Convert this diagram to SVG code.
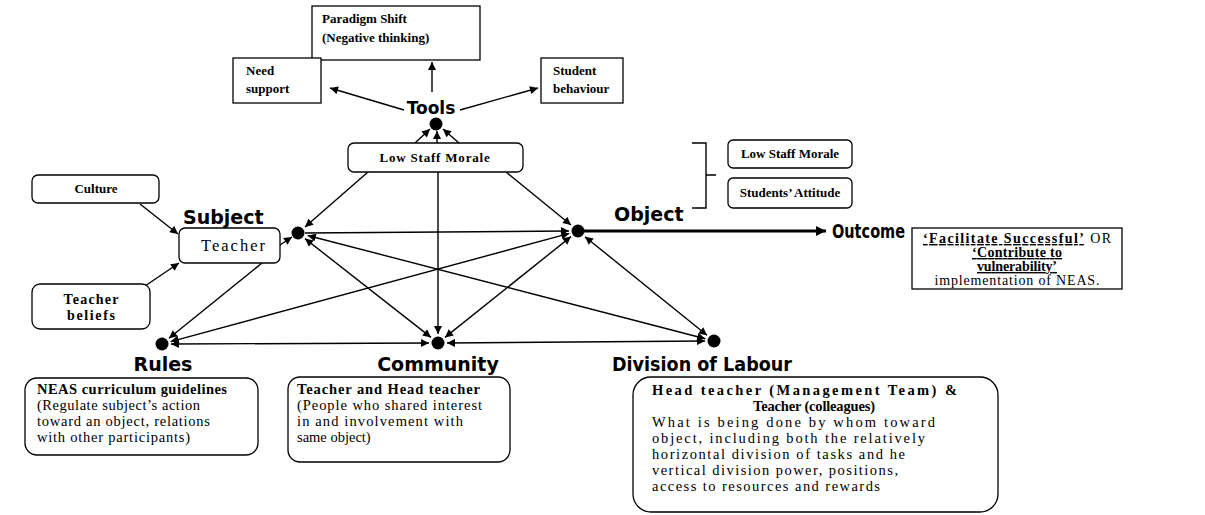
<svg xmlns="http://www.w3.org/2000/svg" width="1205" height="515" viewBox="0 0 1205 515">
<defs>
<marker id="ah" viewBox="0 0 10 10" refX="10" refY="5" markerWidth="9" markerHeight="8" orient="auto-start-reverse" markerUnits="userSpaceOnUse"><path d="M0,0 L10,5 L0,10 z" fill="#000"/></marker>
<marker id="ahBig" viewBox="0 0 10 10" refX="10" refY="5" markerWidth="12" markerHeight="10" orient="auto" markerUnits="userSpaceOnUse"><path d="M0,0 L10,5 L0,10 z" fill="#000"/></marker>
</defs>
<style>
.box{fill:#fff;stroke:#000;stroke-width:1.3}
.ln{stroke:#000;stroke-width:1.4;fill:none}
.hd{font-family:"DejaVu Sans",Arial,sans-serif;font-weight:bold;font-size:19px;fill:#000}
.t{font-family:"Liberation Serif","Times New Roman",serif;font-size:13px;fill:#000}
.m{font-size:14.5px}
.s14{font-size:14px}
.b{font-weight:bold}
.u{text-decoration:underline}
.dot{fill:#000}
</style>
<rect width="1205" height="515" fill="#fff"/>

<g id="connectors">
<line class="ln" x1="432" y1="92" x2="432" y2="62" marker-end="url(#ah)"/>
<line class="ln" x1="404" y1="110" x2="330" y2="88" marker-end="url(#ah)"/>
<line class="ln" x1="460" y1="110" x2="538" y2="88" marker-end="url(#ah)"/>
<line class="ln" x1="415" y1="143" x2="430" y2="129" marker-end="url(#ah)"/>
<line class="ln" x1="437" y1="143" x2="437" y2="131" marker-end="url(#ah)"/>
<line class="ln" x1="459" y1="143" x2="443" y2="129" marker-end="url(#ah)"/>
<line class="ln" x1="368" y1="172" x2="305" y2="227" marker-end="url(#ah)"/>
<line class="ln" x1="438" y1="172" x2="438" y2="334" marker-end="url(#ah)"/>
<line class="ln" x1="506" y1="172" x2="571" y2="225" marker-end="url(#ah)"/>
<line class="ln" x1="305" y1="233" x2="569" y2="231" marker-end="url(#ah)"/>
<line class="ln" x1="305" y1="238.6" x2="431" y2="337.4" marker-start="url(#ah)" marker-end="url(#ah)"/>
<line class="ln" x1="307.7" y1="235.5" x2="705.3" y2="338.7" marker-start="url(#ah)" marker-end="url(#ah)"/>
<line class="ln" x1="170.7" y1="341.6" x2="569.3" y2="233.4" marker-start="url(#ah)" marker-end="url(#ah)"/>
<line class="ln" x1="445" y1="337.4" x2="571" y2="236.6" marker-start="url(#ah)" marker-end="url(#ah)"/>
<line class="ln" x1="585" y1="236.7" x2="707" y2="335.3" marker-start="url(#ah)" marker-end="url(#ah)"/>
<line class="ln" x1="171" y1="344" x2="429" y2="343" marker-start="url(#ah)" marker-end="url(#ah)"/>
<line class="ln" x1="447" y1="343" x2="705" y2="341" marker-start="url(#ah)" marker-end="url(#ah)"/>
<line class="ln" x1="262" y1="263" x2="169" y2="338.3" marker-end="url(#ah)"/>
<line class="ln" x1="280" y1="245" x2="292" y2="237" marker-end="url(#ah)"/>
<line class="ln" x1="140" y1="204" x2="178" y2="234" marker-end="url(#ah)"/>
<line class="ln" x1="145" y1="286" x2="179" y2="263" marker-end="url(#ah)"/>
<line x1="584" y1="231" x2="826" y2="231" stroke="#000" stroke-width="3" marker-end="url(#ahBig)"/>
<path class="ln" d="M692,143 H706 V175 H716 M706,175 V208 H692"/>
</g>

<g id="tools">
<circle class="dot" cx="436" cy="124" r="6.5"/>
<text class="hd" x="431" y="114" text-anchor="middle" style="font-size:17px">Tools</text>
</g>
<g id="subject">
<circle class="dot" cx="298" cy="233" r="6.5"/>
<text class="hd" x="183" y="224">Subject</text>
</g>
<g id="object">
<circle class="dot" cx="578" cy="231" r="6.5"/>
<text class="hd" x="614" y="221">Object</text>
</g>
<g id="outcome">
<text class="hd" x="832" y="238" textLength="73" lengthAdjust="spacingAndGlyphs">Outcome</text>
</g>
<g id="rules">
<circle class="dot" cx="162" cy="344" r="6.5"/>
<text class="hd" x="163" y="371" text-anchor="middle">Rules</text>
</g>
<g id="community">
<circle class="dot" cx="438" cy="343" r="6.5"/>
<text class="hd" x="438" y="371" text-anchor="middle">Community</text>
</g>
<g id="division">
<circle class="dot" cx="714" cy="341" r="6.5"/>
<text class="hd" x="612" y="371" textLength="180" lengthAdjust="spacingAndGlyphs">Division of Labour</text>
</g>

<g id="paradigm-shift">
<rect class="box" x="312" y="6" width="168" height="54"/>
<text class="t b" x="322" y="23">Paradigm Shift</text>
<text class="t b" x="322" y="42">(Negative thinking)</text>
</g>
<g id="need-support">
<rect class="box" x="233" y="58" width="88" height="45"/>
<text class="t b" x="246" y="75">Need</text>
<text class="t b" x="246" y="93">support</text>
</g>
<g id="student-behaviour">
<rect class="box" x="541" y="58" width="82" height="45"/>
<text class="t b" x="553" y="75">Student</text>
<text class="t b" x="553" y="93">behaviour</text>
</g>
<g id="low-staff-morale">
<rect class="box" x="348" y="143" width="175" height="29" rx="6"/>
<text class="t b" x="435" y="162" text-anchor="middle" letter-spacing="0.8">Low Staff Morale</text>
</g>
<g id="object-low-staff-morale">
<rect class="box" x="728" y="140" width="124" height="28" rx="5"/>
<text class="t b" x="790" y="158" text-anchor="middle">Low Staff Morale</text>
</g>
<g id="object-students-attitude">
<rect class="box" x="728" y="178" width="124" height="30" rx="5"/>
<text class="t b" x="790" y="197" text-anchor="middle">Students’ Attitude</text>
</g>
<g id="culture">
<rect class="box" x="32" y="175" width="127" height="28" rx="6"/>
<text class="t b" x="96" y="193" text-anchor="middle">Culture</text>
</g>
<g id="teacher">
<rect class="box" x="179" y="228" width="101" height="35" rx="6"/>
<text class="t" x="233" y="251" text-anchor="middle" style="font-size:16.5px" textLength="64">Teacher</text>
</g>
<g id="teacher-beliefs">
<rect class="box" x="32" y="284" width="118" height="45" rx="8"/>
<text class="t b s14" x="91" y="304" text-anchor="middle" textLength="55">Teacher</text>
<text class="t b s14" x="91" y="320" text-anchor="middle" textLength="48">beliefs</text>
</g>
<g id="outcome-box">
<rect class="box" x="912" y="228" width="210" height="61"/>
<text class="t s14" x="1017" y="243" text-anchor="middle" textLength="188"><tspan class="b u">‘Facilitate Successful’</tspan>  OR</text>
<text class="t b u s14" x="1017" y="257" text-anchor="middle" textLength="90">‘Contribute to</text>
<text class="t b u s14" x="1017" y="271" text-anchor="middle" textLength="80">vulnerability’</text>
<text class="t s14" x="1017" y="285" text-anchor="middle" textLength="165">implementation of NEAS.</text>
</g>
<g id="rules-box">
<rect class="box" x="25" y="378" width="233" height="77" rx="12"/>
<text class="t m b" x="37" y="394" textLength="190">NEAS curriculum guidelines</text>
<text class="t m" x="37" y="410" textLength="163">(Regulate subject’s action</text>
<text class="t m" x="37" y="426" textLength="173">toward an object, relations</text>
<text class="t m" x="37" y="442" textLength="153">with other participants)</text>
</g>
<g id="community-box">
<rect class="box" x="288" y="377" width="222" height="85" rx="12"/>
<text class="t m b" x="297" y="394" textLength="183">Teacher and Head teacher</text>
<text class="t m" x="297" y="410" textLength="185">(People who shared interest</text>
<text class="t m" x="297" y="426" textLength="166">in and involvement with</text>
<text class="t m" x="297" y="442">same object)</text>
</g>
<g id="division-box">
<rect class="box" x="633" y="377" width="365" height="135" rx="18"/>
<text class="t m b" x="652" y="395" textLength="305">Head teacher (Management Team) &amp;</text>
<text class="t m b" x="814" y="411" text-anchor="middle" textLength="122">Teacher (colleagues)</text>
<text class="t m" x="652" y="427" textLength="283">What is being done by whom toward</text>
<text class="t m" x="652" y="443" textLength="273">object, including both the relatively</text>
<text class="t m" x="652" y="459" textLength="253">horizontal division of tasks and he</text>
<text class="t m" x="652" y="475" textLength="246">vertical division power, positions,</text>
<text class="t m" x="652" y="491" textLength="228">access to resources and rewards</text>
</g>
</svg>
